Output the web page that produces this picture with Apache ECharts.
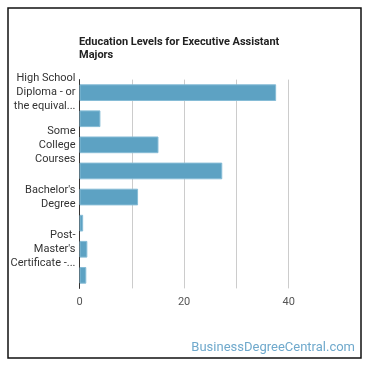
<!DOCTYPE html>
<html><head><meta charset="utf-8">
<script src="https://cdn.jsdelivr.net/npm/echarts@6/dist/echarts.min.js"></script>
<style>html,body{margin:0;padding:0;background:#fff}#c{width:370px;height:370px}</style>
</head><body><div id="c"></div>
<script>
const titleText = "Education Levels for Executive Assistant\nMajors";
const categories = [
  "High School Diploma - or the equivalent (for example, GED)",
  "Post-Secondary Certificate",
  "Some College Courses",
  "Associate's Degree",
  "Bachelor's Degree",
  "Master's Degree",
  "Post-Master's Certificate - awarded for completion of an organized program of study",
  "Doctoral Degree"
];
const values = [37.6, 4.0, 15.1, 27.3, 11.2, 0.7, 1.5, 1.3];
const xTickLabels = [0, 20, 40];
const watermark = "BusinessDegreeCentral.com";

const LABEL_FONT = "11px Roboto";
const ctx = document.createElement('canvas').getContext('2d');
ctx.font = LABEL_FONT;
function w(s){ return ctx.measureText(s).width; }
function wrapLabel(text, maxW, maxLines){
  const toks = text.match(/[^\s-]+-?|-/g) || [];
  const lines = [];
  let cur = "";
  function joinTok(a, b){ if(!a) return b; if(a.endsWith('-') && a.length>1 && !a.endsWith(' -')) return a + b; return a + ' ' + b; }
  for(let i=0;i<toks.length;i++){
    const cand = joinTok(cur, toks[i]);
    if(cur && w(cand) > maxW){
      lines.push(cur);
      cur = toks[i];
      if(lines.length === maxLines-1){
        let rest = cur;
        for(let j=i+1;j<toks.length;j++) rest = joinTok(rest, toks[j]);
        if(w(rest) > maxW){
          let s = rest;
          while(s.length>0 && w(s.replace(/\s+$/,'') + '...') > maxW) s = s.slice(0,-1);
          rest = s.replace(/\s+$/,'') + '...';
        }
        lines.push(rest);
        return lines.join('\n');
      }
    } else cur = cand;
  }
  if(cur) lines.push(cur);
  return lines.join('\n');
}

const chart = echarts.init(document.getElementById('c'), null, {renderer:'canvas'});
chart.setOption({
  animation:false,
  backgroundColor:'#fff',
  title:{
    text:titleText, left:74, top:31,
    textStyle:{fontFamily:'Roboto', fontSize:11, fontWeight:'bold', color:'#222', lineHeight:12.5}
  },
  grid:{left:79.5, right:81.3, top:79.6, bottom:81.6, containLabel:false},
  xAxis:{
    type:'value', min:0, max:40, interval:10,
    axisLine:{show:false}, axisTick:{show:false},
    splitLine:{lineStyle:{color:'#cccccc', width:1}},
    axisLabel:{
      fontFamily:'Roboto', fontSize:11, color:'#555', margin:8,
      formatter:function(v){ return xTickLabels.indexOf(v) >= 0 ? String(v) : ''; }
    }
  },
  yAxis:{
    type:'category', data:categories, inverse:true,
    axisLine:{show:true, lineStyle:{color:'#333', width:1}},
    axisTick:{show:false},
    axisLabel:{
      interval:1, fontFamily:'Roboto', fontSize:11, color:'#333', margin:4, lineHeight:14, align:'right',
      formatter:function(v){ return wrapLabel(v, 66, 3); }
    }
  },
  series:[{
    type:'bar', data:values, barCategoryGap:'36%',
    itemStyle:{color:'#5da2c3', borderColor:'#86bcd6', borderWidth:1},
    silent:true
  }],
  graphic:[
    {type:'rect', shape:{x:8, y:8, width:353, height:350}, style:{fill:'none', stroke:'#111', lineWidth:1.5}, silent:true},
    {type:'text', right:15, top:341, style:{text:watermark, fill:'#6fa9cc', font:'13px Roboto'}, silent:true}
  ]
});
</script>
</body></html>
